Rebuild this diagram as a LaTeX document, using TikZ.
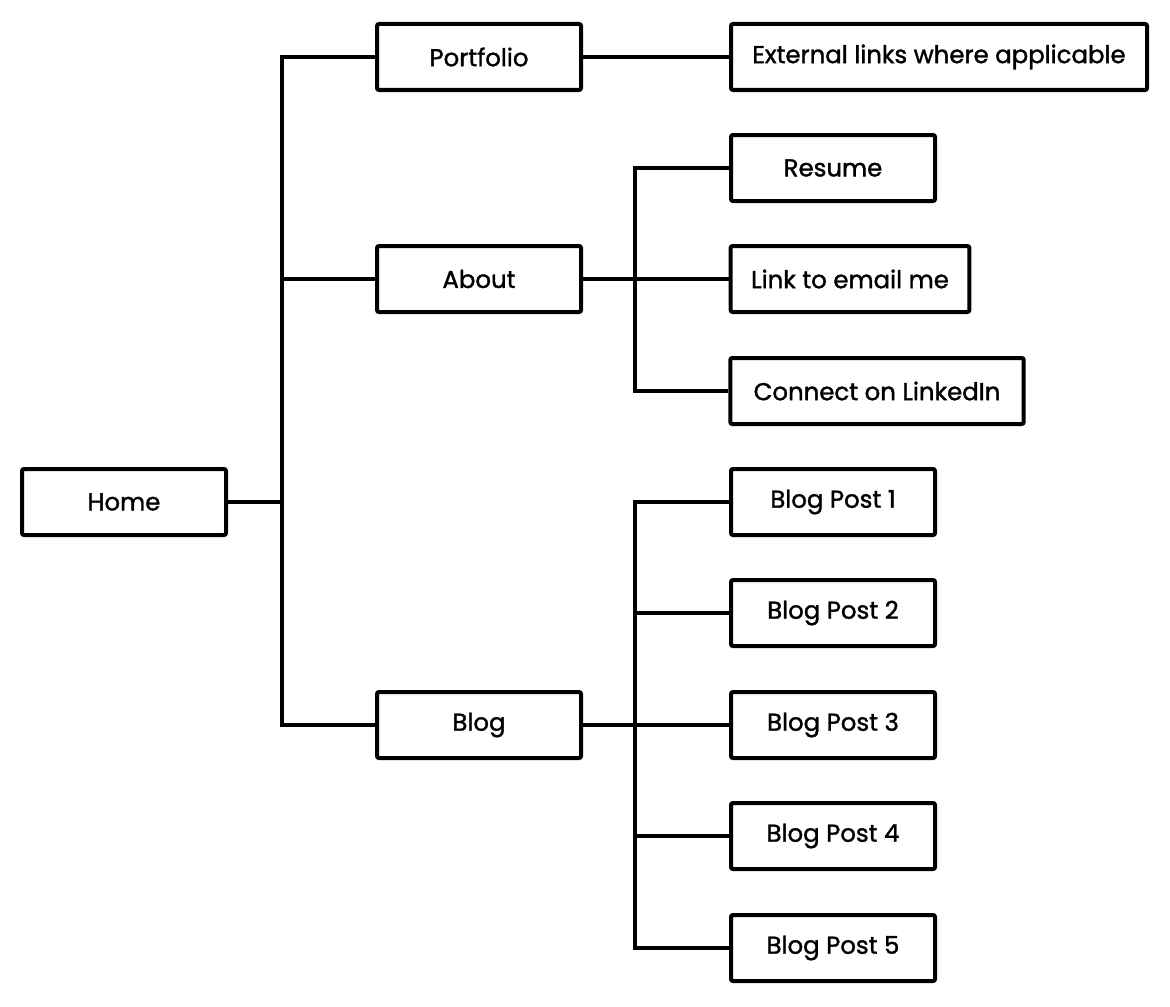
\documentclass[tikz,border=0pt]{standalone}
\usepackage{fontspec}
\setmainfont{Poppins}[FakeBold=1.4]
\usepackage{tikz}

\begin{document}
\begin{tikzpicture}[x=0.75pt, y=-0.75pt,
    page/.style={draw, line width=3pt, rounded corners=1.5pt, fill=white,
      minimum height=49.5pt, minimum width=153pt, inner sep=0pt, font=\fontsize{18.3}{20}\selectfont},
    link/.style={line width=2.4pt}]
  \useasboundingbox (0,0) rectangle (1170,1006);
  % pages
  \node[page] (home) at (124,502) {Home};
  \node[page] (portfolio) at (479,57) {Portfolio};
  \node[page] (about) at (479,279) {About};
  \node[page] (blog) at (479,725) {Blog};
  \node[page, minimum width=312pt] (external) at (939,57) {External links where applicable};
  \node[page] (resume) at (833,168) {Resume};
  \node[page, minimum width=179pt] (email) at (850,279) {Link to email me};
  \node[page, minimum width=220pt] (linkedin) at (877,391) {Connect on LinkedIn};
  \foreach \y [count=\n] in {502,613,725,836,948} {
    \node[page] (post\n) at (833,\y) {Blog Post \n};
  }
  % links
  \coordinate (trunk) at (282,502);
  \coordinate (aboutbr) at (635,279);
  \coordinate (blogbr) at (635,725);
  \draw[link] (home) -- (trunk);
  \draw[link] (trunk) |- (portfolio);
  \draw[link] (trunk) -- (about.west -| trunk) -- (about);
  \draw[link] (trunk) |- (blog);
  \draw[link] (portfolio) -- (external);
  \draw[link] (about) -- (email);
  \draw[link] (aboutbr) |- (resume);
  \draw[link] (aboutbr) |- (linkedin);
  \draw[link] (blog) -- (post3);
  \draw[link] (blogbr) |- (post1);
  \draw[link] (blogbr) |- (post5);
  \draw[link] (blogbr |- post2) -- (post2);
  \draw[link] (blogbr |- post4) -- (post4);
\end{tikzpicture}
\end{document}
